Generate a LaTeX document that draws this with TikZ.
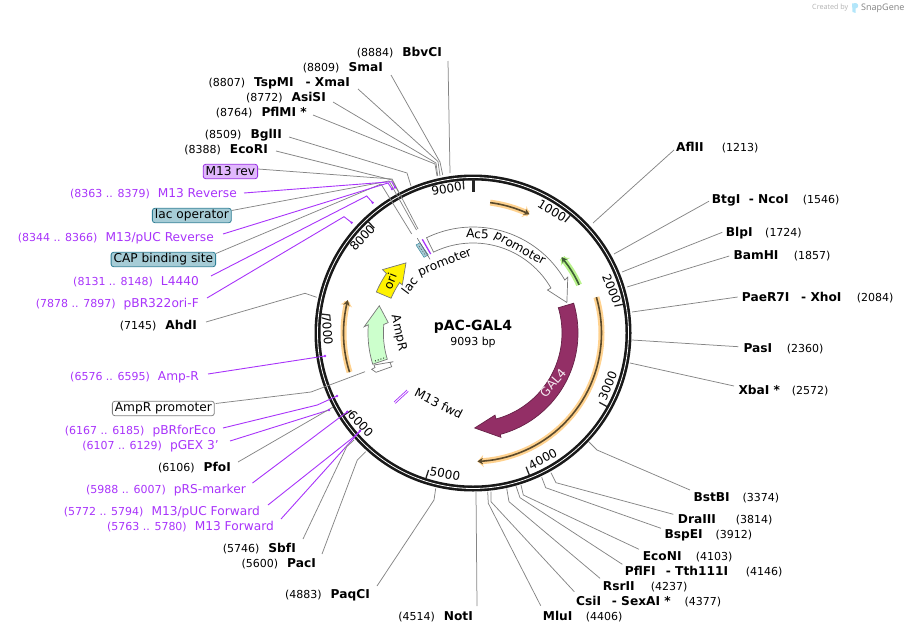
\documentclass[tikz,border=0pt]{standalone}
\usepackage{fontspec}
\setmainfont{DejaVu Sans}
\newfontfamily\osans{Open Sans}
\usetikzlibrary{arrows.meta}
\definecolor{pur}{HTML}{A833FA}
\definecolor{gline}{HTML}{858585}
\definecolor{oline}{HTML}{777777}
\definecolor{ohalo}{HTML}{FFD28F}
\definecolor{odark}{HTML}{5A4A2C}
\definecolor{ghalo}{HTML}{B9F28C}
\definecolor{gdark}{HTML}{3F5F35}
\definecolor{gal}{HTML}{932F66}
\definecolor{lacf}{HTML}{A6CCD6}
\definecolor{lacb}{HTML}{2F7F95}
\newcommand\pp[2]{({473+(#2)*sin(#1)},{333-(#2)*cos(#1)})}
\newcommand\arcc[3]{plot[domain=#1:#2,samples=40,variable=\tht] ({473+(#3)*sin(\tht)},{333-(#3)*cos(\tht)})}
\newcommand\arcl[3]{-- plot[domain=#1:#2,samples=40,variable=\tht] ({473+(#3)*sin(\tht)},{333-(#3)*cos(\tht)})}
\newcommand\nf{\fontsize{11}{14}\selectfont}
\newcommand\bfn{\fontsize{12.2}{14}\selectfont\bfseries}
\newcommand\ltxt[2]{{\nf(#1)}\hspace{9pt}{\bfn #2}}
% name in a box as wide as the distance to the number
\newcommand\rtxt[3]{\makebox[#1pt][l]{\bfn #2}{\nf(#3)}}
\newcommand\dbl[3]{\makebox[#1pt][l]{#2}- #3}
\newcommand\ptxt[2]{{\nf(#1)}\hspace{8pt}{\fontsize{12.2}{14}\selectfont #2}}
\tikzset{
 lb/.style={inner sep=0pt,anchor=east,yshift=-1pt},
 rb/.style={inner sep=0pt,anchor=west,yshift=-1pt},
 pl/.style={inner sep=0pt,anchor=east,text=pur,yshift=-1pt},
 gl/.style={draw=gline,line width=.75pt},
 pline/.style={draw=pur,line width=.9pt},
 tagbox/.style={draw,rounded corners=2.5pt,inner xsep=2.5pt,inner ysep=0pt,minimum height=14.4pt,anchor=east,line width=.8pt,font=\fontsize{12.2}{14}\selectfont},
 feat/.style={draw=oline,line width=.7pt,line join=miter},
 ticklab/.style={font=\fontsize{12}{14}\selectfont,inner sep=0pt},
 arclab/.style={font=\fontsize{12.2}{14}\selectfont,inner sep=0pt,anchor=base},
 oarc/.style={line width=6pt,ohalo,-{Stealth[length=6pt,width=12pt]}},
 odk/.style={line width=1.6pt,odark,-{Stealth[length=5.5pt,width=6.5pt]}},
 garc/.style={line width=6pt,ghalo,-{Stealth[length=6pt,width=12pt]}},
 gdk/.style={line width=1.6pt,gdark,-{Stealth[length=5.5pt,width=6.5pt]}},
 pdot/.style={fill=pur,draw=none},
}
\begin{document}
\begin{tikzpicture}[x=1pt,y=-1pt]
\useasboundingbox (0,0) rectangle (909,634);
% credit
\node[inner sep=0pt,anchor=west,text=black!30,font=\osans\fontsize{7.2}{9}\selectfont] (cr) at (812,8) {Created by};
\fill[color=cyan!30] (852,3.5) -- (856,3) .. controls (859,4) and (859,8) .. (855.5,8.5) -- (855.5,13) -- (852.5,12) -- cycle;
\node[inner sep=0pt,anchor=west,text=black!50,font=\osans\fontsize{9}{10}\selectfont] (sg) at (861,8) {SnapGene};
% ring
\draw[line width=6pt,black!90] (473,333) circle (155.5);
\draw[line width=.8pt,white] (473,333) circle (155.5);
% ticks
\draw[line width=3pt,black!85] \pp{0}{154} -- \pp{0}{141};
\foreach \p in {1000,2000,...,9000}{
  \draw[line width=1.3pt,black!85] \pp{\p/25.2583}{153} -- \pp{\p/25.2583}{144};
}
\node[ticklab,rotate=-31] (t1) at (552,211) {1000};
\node[ticklab,rotate=-68] (t2) at (611.7,289) {2000};
\node[ticklab,rotate=68] (t3) at (607.7,386) {3000};
\node[ticklab,rotate=28] (t4) at (542.7,459) {4000};
\node[ticklab,rotate=-10] (t5) at (445,474) {5000};
\node[ticklab,rotate=-47] (t6) at (360.7,424) {6000};
\node[ticklab,rotate=-85] (t7) at (327.3,330) {7000};
\node[ticklab,rotate=47] (t8) at (362.3,237.7) {8000};
\node[ticklab,rotate=10] (t9) at (446.7,189) {9000};
% centre
\node[inner sep=0pt,font=\fontsize{14}{16}\selectfont\bfseries] (title) at (473,327) {pAC-GAL4};
\node[inner sep=0pt,font=\fontsize{11}{13}\selectfont] (size) at (473,342) {9093 bp};
% GAL4
\draw[fill=gal,draw=gal!70!black,line width=.7pt] \arcc{73.5}{165}{105} -- \pp{165}{108} -- \pp{179}{95} -- \pp{165}{85} \arcl{165}{73.5}{89} -- cycle;
\node[inner sep=0pt,rotate=49,text=white!90!gal,font=\fontsize{12.2}{14}\selectfont] (galn) at (553,383) {GAL4};
% primers arcs
\draw[oarc] \arcc{73.8}{178}{128.5};
\draw[odk] \arcc{73.8}{178}{128.5};
\draw[oarc] \arcc{7.5}{25.4}{131.5};
\draw[odk] \arcc{7.5}{25.4}{131.5};
\draw[oarc] \arcc{252.4}{284.7}{129.5};
\draw[odk] \arcc{252.4}{284.7}{129.5};
\draw[garc] \arcc{65.6}{49.5}{116.5};
\draw[gdk] \arcc{65.6}{49.5}{116.5};
% Ac5
\draw[feat,fill=white] \arcc{-26}{60}{106} -- \pp{59.5}{110} -- \pp{72}{98.7} -- \pp{60}{86} \arcl{60}{-26}{90} -- cycle;
\node[arclab,rotate=-2.6] (ac5a) at \pp{2.6}{94.7} {Ac5};
\node[arclab,rotate=-29] (ac5b) at \pp{29}{93} {promoter};
\node[arclab,rotate=53.2] (laca) at \pp{-53.2}{74.7} {lac};
\node[arclab,rotate=21.8] (lacb) at \pp{-21.8}{72.5} {promoter};
% ori
\draw[feat,fill=yellow] \arcc{-67}{-55.5}{105} -- \pp{-55}{110.5} -- \pp{-43.7}{97} -- \pp{-55.8}{85.5} \arcl{-55.5}{-67}{89} -- cycle;
\node[inner sep=0pt,rotate=68,font=\fontsize{12.2}{14}\selectfont] (orin) at (390,281) {ori};
% AmpR
\draw[feat,fill=green!20] \arcc{252.7}{274.5}{105} -- \pp{273.3}{109} -- \pp{286.2}{97.6} -- \pp{277}{85.4} \arcl{275.5}{253}{89.6} -- cycle;
\draw[dotted,line width=.9pt] (375,361) -- (386,357.3);
\node[inner sep=0pt,rotate=-78,font=\fontsize{12.2}{14}\selectfont] (ampn) at (398.5,333) {AmpR};
\draw[feat,fill=white] (376,372.3) -- (391.7,366.7) -- (390,362.5) -- (393.3,361.7) -- (374,365) -- (375,367.5) -- (371.7,369.3) -- cycle;
% M13 fwd
\draw[pline,line width=.7pt] (394,402) -- (407,390);
\draw[pline,line width=.7pt] (395.3,403.4) -- (408.3,391.4);
\node[arclab,rotate=-27] (m13f) at \pp{206}{83} {M13 fwd};
% lac region
\fill[lacf,draw=lacb,line width=.4pt] (416,245) -- (420,242.7) -- (428.3,255) -- (424,257.3) -- cycle;
\draw[black!70,line width=.4pt,dash pattern=on 1.5pt off 1.5pt] (419,246) -- (426,256);
\draw[black!60,line width=.6pt] (417.3,238.3) -- (430,259.3);
\draw[pur,line width=1.3pt] (422.3,239.3) -- (430.7,254);
% labels top left
\node[lb] (n8884) at (442,52) {\ltxt{8884}{BbvCI}};
\node[lb] (n8809) at (383,67) {\ltxt{8809}{SmaI}};
\node[lb] (n8807) at (350,82) {{\nf(8807)}\hspace{9pt}{\bfn TspMI\hspace{12pt}- XmaI}};
\node[lb] (n8772) at (326,97) {\ltxt{8772}{AsiSI}};
\node[lb] (n8764) at (307,112) {\ltxt{8764}{PflMI *}};
\node[lb] (n8509) at (282,134) {\ltxt{8509}{BglII}};
\node[lb] (n8388) at (268,149) {\ltxt{8388}{EcoRI}};
\node[tagbox,fill=pur!35,draw=pur!90!black] (m13rev) at (258,171.5) {M13 rev};
\node[pl] (p8363) at (237,193) {\ptxt{8363 .. 8379}{M13 Reverse}};
\node[tagbox,fill=lacf,draw=lacb] (lacop) at (231.7,215.5) {lac operator};
\node[pl] (p8344) at (214,237) {\ptxt{8344 .. 8366}{M13/pUC Reverse}};
\node[tagbox,fill=lacf,draw=lacb] (cap) at (216,259.5) {CAP binding site};
\node[pl] (p8131) at (199,281) {\ptxt{8131 .. 8148}{L4440}};
\node[pl] (p7878) at (199,303) {\ptxt{7878 .. 7897}{pBR322ori-F}};
\node[lb] (n7145) at (197,325) {\ltxt{7145}{AhdI}};
\node[pl] (p6576) at (199,376) {\ptxt{6576 .. 6595}{Amp-R}};
\node[tagbox,fill=white,draw=black!50] (amppr) at (214.7,408.5) {AmpR promoter};
\node[pl] (p6167) at (216,430) {\ptxt{6167 .. 6185}{pBRforEco}};
\node[pl] (p6107) at (219,445) {\ptxt{6107 .. 6129}{pGEX 3'}};
\node[lb] (n6106) at (231,467) {\ltxt{6106}{PfoI}};
\node[pl] (p5988) at (246,489) {\ptxt{5988 .. 6007}{pRS-marker}};
\node[pl] (p5772) at (260,511) {\ptxt{5772 .. 5794}{M13/pUC Forward}};
\node[pl] (p5763) at (274,526) {\ptxt{5763 .. 5780}{M13 Forward}};
\node[lb] (n5746) at (296,548) {\ltxt{5746}{SbfI}};
\node[lb] (n5600) at (316,563) {\ltxt{5600}{PacI}};
\node[lb] (n4883) at (370,594) {\ltxt{4883}{PaqCI}};
\node[lb] (n4514) at (473,616) {\ltxt{4514}{NotI}};
% labels right
\node[rb] (n4406) at (542.7,616) {\rtxt{43}{MluI}{4406}};
\node[rb] (n4377) at (576,601) {\rtxt{108.3}{\dbl{35.7}{CsiI}{SexAI *}}{4377}};
\node[rb] (n4237) at (602.7,586) {\rtxt{48}{RsrII}{4237}};
\node[rb] (n4146) at (624.7,571) {\rtxt{121}{\dbl{41}{PflFI}{Tth111I}}{4146}};
\node[rb] (n4103) at (642.7,556) {\rtxt{53}{EcoNI}{4103}};
\node[rb] (n3912) at (664.3,534) {\rtxt{51}{BspEI}{3912}};
\node[rb] (n3814) at (677.7,519) {\rtxt{58}{DraIII}{3814}};
\node[rb] (n3374) at (693.3,497) {\rtxt{49}{BstBI}{3374}};
\node[rb] (n2572) at (738.3,390) {\rtxt{53.4}{XbaI *}{2572}};
\node[rb] (n2360) at (743.3,348) {\rtxt{43.4}{PasI}{2360}};
\node[rb] (n2084) at (741.7,297) {\rtxt{115}{\dbl{59.3}{PaeR7I}{XhoI}}{2084}};
\node[rb] (n1857) at (733.3,255) {\rtxt{60.4}{BamHI}{1857}};
\node[rb] (n1724) at (725.7,232) {\rtxt{39.3}{BlpI}{1724}};
\node[rb] (n1546) at (711.7,199.5) {\rtxt{91}{\dbl{37}{BtgI}{NcoI}}{1546}};
\node[rb] (n1213) at (676,147) {\rtxt{45.7}{AflII}{1213}};
% connector ends
\coordinate (e8884) at (450,173);
\coordinate (e8809) at (442.7,175);
\coordinate (e8807) at (440,176);
\coordinate (e8772) at (437.7,176);
\coordinate (e8764) at (437,176);
\coordinate (e8509) at (411,186);
\coordinate (e8388) at (399,193);
\coordinate (eM13) at (418,229);
\coordinate (eLac) at (416.5,230);
\coordinate (eCap) at (411.7,234);
\coordinate (e8363) at (395,187.5);
\coordinate (e8344) at (392,189);
\coordinate (e8131) at (372.7,202.7);
\coordinate (e7878) at (351.7,222.7);
\coordinate (e7145) at (316.7,297.3);
\coordinate (e6576) at (325,356);
\coordinate (eAmpP) at (365,371.7);
\coordinate (e6167) at (337,396);
\coordinate (e6107) at (329,410);
\coordinate (e6106) at (333,407);
\coordinate (e5988) at (347.3,411.7);
\coordinate (e5772) at (360,430.7);
\coordinate (e5763) at (360.7,430.7);
\coordinate (e5746) at (354,440);
\coordinate (e5600) at (365.7,451.7);
\coordinate (e4883) at (435.7,488.3);
\coordinate (e4514) at (476,491.7);
\coordinate (e4406) at (487.7,491.7);
\coordinate (e4377) at (491,491.7);
\coordinate (e4237) at (506.7,488.3);
\coordinate (e4146) at (516,486);
\coordinate (e4103) at (521,485);
\coordinate (e3912) at (541.7,477.3);
\coordinate (e3814) at (551,472.7);
\coordinate (e3374) at (589,442);
\coordinate (e2572) at (630,363);
\coordinate (e2360) at (632,340);
\coordinate (e2084) at (632,312);
\coordinate (e1857) at (627,287);
\coordinate (e1724) at (622,272);
\coordinate (e1546) at (614,254);
\coordinate (e1213) at (593,223);
% connectors
\draw[gl] ([shift={(6,8)}]n8884.east) -- (e8884);
\draw[gl] ([shift={(8,7)}]n8809.east) -- (440,162) -- (e8809);
\draw[gl] ([shift={(8,6)}]n8807.east) -- (438,161.5) -- (e8807);
\draw[gl] ([shift={(7,4)}]n8772.east) -- (436,163) -- (e8772);
\draw[gl] ([shift={(6,2)}]n8764.east) -- (435,164) -- (e8764);
\draw[gl] ([shift={(7,2)}]n8509.east) -- (407,173) -- (e8509);
\draw[gl] ([shift={(8,1)}]n8388.east) -- (392,180) -- (e8388);
\draw[gl] ([shift={(0,-2.5)}]m13rev.east) -- (392,179) -- (eM13);
\draw[gl] ([shift={(0,-5)}]lacop.east) -- (389,181) -- (eLac);
\draw[gl] ([shift={(0,-6)}]cap.east) -- (381,184) -- (eCap);
\draw[pline] ([shift={(7,-1)}]p8363.east) -- (391.7,181.7) -- (e8363);
\draw[pline] ([shift={(9,-4)}]p8344.east) -- (388,183) -- (e8344);
\draw[pline] ([shift={(12,-6)}]p8131.east) -- (366.7,196) -- (e8131);
\draw[pline] ([shift={(8,-6)}]p7878.east) -- (344,216.7) -- (e7878);
\draw[gl] ([shift={(9,-4)}]n7145.east) -- (305,293.3) -- (e7145);
\draw[pline] ([shift={(9,-3)}]p6576.east) -- (e6576);
\draw[gl] ([shift={(1,-5)}]amppr.east) -- (311,392) -- (eAmpP);
\draw[pline] ([shift={(7,-3)}]p6167.east) -- (317.3,405) -- (e6167);
\draw[pline] ([shift={(11,-5)}]p6107.east) -- (e6107);
\draw[gl] ([shift={(7,-6)}]n6106.east) -- (325,411.7) -- (e6106);
\draw[pline] ([shift={(6.5,-7)}]p5988.east) -- (e5988);
\draw[pline] ([shift={(8,-7)}]p5772.east) -- (354,436.7) -- (e5772);
\draw[pline] ([shift={(7,-8)}]p5763.east) -- (355,436.7) -- (e5763);
\draw[gl] ([shift={(7,-10)}]n5746.east) -- (346.7,446.7) -- (e5746);
\draw[gl] ([shift={(6,-10)}]n5600.east) -- (357.3,460) -- (e5600);
\draw[gl] ([shift={(7,-9)}]n4883.east) -- (434,500) -- (e4883);
\draw[gl] ([shift={(4,-11)}]n4514.east) -- (e4514);
\draw[gl] ([shift={(-2,-11.3)}]n4406.west) -- (488.3,503.3) -- (e4406);
\draw[gl] ([shift={(-1.7,-10.3)}]n4377.west) -- (491,501.7) -- (e4377);
\draw[gl] ([shift={(-2.7,-8.7)}]n4237.west) -- (509,501.7) -- (e4237);
\draw[gl] ([shift={(-2.4,-7.7)}]n4146.west) -- (520,497.7) -- (e4146);
\draw[gl] ([shift={(-3.7,-7.7)}]n4103.west) -- (523.3,495) -- (e4103);
\draw[gl] ([shift={(-3.3,-6.7)}]n3912.west) -- (545.7,487.7) -- (e3912);
\draw[gl] ([shift={(-4.4,-5.7)}]n3814.west) -- (556,482.7) -- (e3814);
\draw[gl] ([shift={(-3.3,-8)}]n3374.west) -- (597,450) -- (e3374);
\draw[gl] ([shift={(-4.3,-5)}]n2572.west) -- (e2572);
\draw[gl] ([shift={(-5,-2.3)}]n2360.west) -- (e2360);
\draw[gl] ([shift={(-4,-1)}]n2084.west) -- (e2084);
\draw[gl] ([shift={(-4,0)}]n1857.west) -- (e1857);
\draw[gl] ([shift={(-3.4,-.7)}]n1724.west) -- (e1724);
\draw[gl] ([shift={(-2.7,.7)}]n1546.west) -- (e1546);
\draw[gl] ([shift={(-2,2)}]n1213.west) -- (e1213);
% primer end marks
\foreach \c in {e8363,e8344,e8131,e7878,e6576,e6167,e6107,e5988,e5772}{
  \fill[pdot] (\c) circle (1.3);
}
\end{tikzpicture}
\end{document}
